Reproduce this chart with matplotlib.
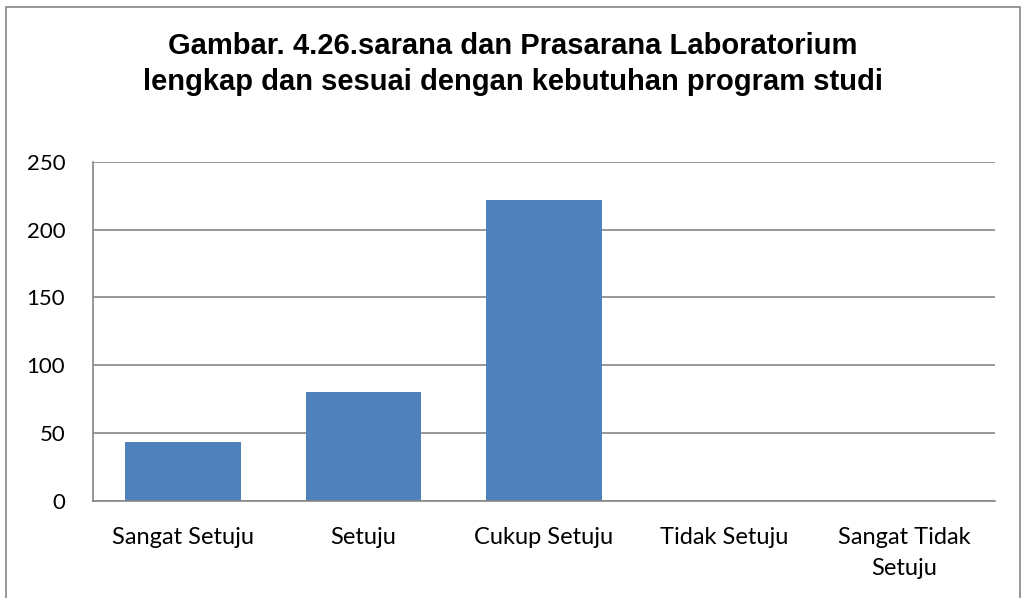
import matplotlib.pyplot as plt
from matplotlib.patches import Rectangle

categories = ['Sangat Setuju', 'Setuju', 'Cukup Setuju', 'Tidak Setuju', 'Sangat Tidak\nSetuju']
values = [43, 80, 222, 0, 0]
yticks = [0, 50, 100, 150, 200, 250]
title = 'Gambar. 4.26.sarana dan Prasarana Laboratorium\nlengkap dan sesuai dengan kebutuhan program studi'

fig = plt.figure(figsize=(10.26, 5.98), dpi=100)
ax = fig.add_axes([0.0906, 0.163, 0.879, 0.566])

# outer chart border
fig.patches.append(Rectangle((0.006, -0.05), 0.988, 1.038, transform=fig.transFigure,
                             fill=False, edgecolor='#868686', linewidth=1.2))

ax.bar(range(len(values)), values, width=0.64, color='#4F81BD', zorder=3)

ax.set_xlim(-0.5, len(values) - 0.5)
ax.set_ylim(0, 250)
ax.set_yticks(yticks)
ax.set_xticks(range(len(categories)))
ax.set_xticklabels(categories, fontfamily='Lato', fontsize=17, linespacing=1.6)
ax.set_yticklabels([str(t) for t in yticks], fontfamily='Lato', fontsize=16)
ax.tick_params(axis='y', length=0, pad=20)
ax.tick_params(axis='x', length=0, pad=19)

ax.grid(axis='y', color='#868686', linewidth=1.2, zorder=0)
for s in ['top', 'right']:
    ax.spines[s].set_visible(False)
for s in ['left', 'bottom']:
    ax.spines[s].set_color('#868686')
    ax.spines[s].set_linewidth(1.2)
    ax.spines[s].set_zorder(4)

fig.text(0.5, 0.893, title, ha='center', va='center', fontsize=21,
         fontweight='bold', fontfamily='Liberation Sans', linespacing=1.35)

fig.savefig('out.png', dpi=100)
